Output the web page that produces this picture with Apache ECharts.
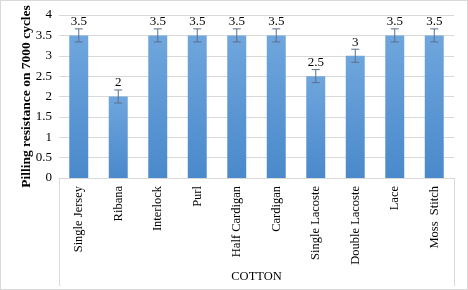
<!DOCTYPE html>
<html><head><meta charset="utf-8">
<script src="https://cdn.jsdelivr.net/npm/echarts@6/dist/echarts.min.js"></script>
<style>html,body{margin:0;padding:0;background:#fff}#c{width:468px;height:290px;box-sizing:border-box;border:1px solid #d9d9d9}</style>
</head><body><div id="c"></div>
<script>
const categories = ['Single Jersey','Ribana','Interlock','Purl','Half Cardigan','Cardigan','Single Lacoste','Double Lacoste','Lace','Moss  Stitch'];
const values = [3.5, 2, 3.5, 3.5, 3.5, 3.5, 2.5, 3, 3.5, 3.5];
const errors = [0.16, 0.16, 0.16, 0.16, 0.16, 0.16, 0.16, 0.16, 0.16, 0.16];
const groupName = ['COTTON'];
const yTitle = 'Pilling resistance on 7000 cycles';

const chart = echarts.init(document.getElementById('c'));
const font = 'Liberation Serif';
chart.setOption({
  animation: false,
  grid: {left: 58, right: 13, top: 14, bottom: 111, containLabel: false},
  xAxis: [{
    type: 'category', data: categories,
    axisLine: {lineStyle: {color: '#d9d9d9'}},
    axisTick: {show: false},
    axisLabel: {rotate: 90, interval: 0, fontFamily: font, fontSize: 12.5, color: '#000', margin: 8}
  }, {
    type: 'category', data: groupName, position: 'bottom',
    axisLine: {show: false},
    axisTick: {show: true, length: 108, lineStyle: {color: '#d9d9d9'}},
    axisLabel: {fontFamily: font, fontSize: 12.5, color: '#000', margin: 92}
  }],
  yAxis: {
    type: 'value', min: 0, max: 4, interval: 0.5,
    name: yTitle, nameLocation: 'middle', nameGap: 25, nameMoveOverlap: false,
    nameTextStyle: {fontFamily: font, fontSize: 13.5, fontWeight: 'bold', color: '#000'},
    axisLine: {show: false}, axisTick: {show: false},
    axisLabel: {fontFamily: font, fontSize: 13, color: '#000', margin: 7},
    splitLine: {lineStyle: {color: '#d9d9d9'}}
  },
  series: [{
    type: 'bar', data: values, barWidth: '48%', xAxisIndex: 0,
    itemStyle: {color: new echarts.graphic.LinearGradient(0,0,0,1,[{offset:0,color:'#6fa6dd'},{offset:1,color:'#4a89cb'}])},
    label: {show: true, position: 'top', distance: 7, fontFamily: font, fontSize: 13, color: '#000'}
  }, {
    type: 'custom', xAxisIndex: 0, z: 10,
    data: values.map((v, i) => [i, v, errors[i]]),
    renderItem: function (params, api) {
      const x = api.value(0), v = api.value(1), e = api.value(2);
      const hi = api.coord([x, v + e]), lo = api.coord([x, v - e]);
      const w = 4;
      const st = {stroke: '#5b6f8c', lineWidth: 1};
      return {type: 'group', children: [
        {type: 'line', shape: {x1: hi[0], y1: hi[1], x2: lo[0], y2: lo[1]}, style: st},
        {type: 'line', shape: {x1: hi[0]-w, y1: hi[1], x2: hi[0]+w, y2: hi[1]}, style: st},
        {type: 'line', shape: {x1: lo[0]-w, y1: lo[1], x2: lo[0]+w, y2: lo[1]}, style: st}
      ]};
    }
  }]
});
</script></body></html>
